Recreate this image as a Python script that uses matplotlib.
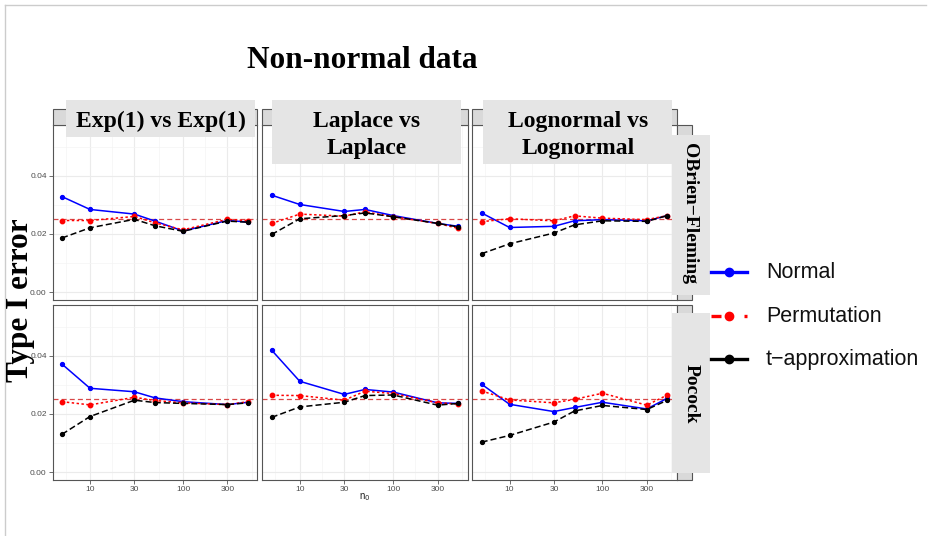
import numpy as np
import matplotlib
matplotlib.use("Agg")
import matplotlib.pyplot as plt
from matplotlib.patches import Rectangle
from matplotlib.lines import Line2D
from matplotlib.ticker import NullFormatter

# datos
n0 = [5, 10, 30, 50, 100, 300, 500]
alpha_nominal = 0.025

# O'Brien-Fleming
normal_exp_obf = [0.0328, 0.0284, 0.0268, 0.0244, 0.0210, 0.0246, 0.0241]
perm_exp_obf = [0.0246, 0.0246, 0.0260, 0.0238, 0.0214, 0.0250, 0.0245]
t_exp_obf = [0.0186, 0.0221, 0.0250, 0.0228, 0.0209, 0.0244, 0.0240]

normal_lap_obf = [0.0333, 0.0301, 0.0277, 0.0284, 0.0263, 0.0236, 0.0226]
perm_lap_obf = [0.0236, 0.0268, 0.0261, 0.0276, 0.0259, 0.0236, 0.0219]
t_lap_obf = [0.0198, 0.0252, 0.0263, 0.0272, 0.0259, 0.0236, 0.0224]

normal_log_obf = [0.0272, 0.0222, 0.0226, 0.0245, 0.0249, 0.0245, 0.0263]
perm_log_obf = [0.0242, 0.0252, 0.0245, 0.0262, 0.0254, 0.0249, 0.0263]
t_log_obf = [0.0132, 0.0166, 0.0203, 0.0231, 0.0245, 0.0243, 0.0263]

# Pocock
normal_exp_poc = [0.0371, 0.0288, 0.0276, 0.0255, 0.0242, 0.0232, 0.0240]
perm_exp_poc = [0.0242, 0.0231, 0.0257, 0.0246, 0.0238, 0.0232, 0.0242]
t_exp_poc = [0.0130, 0.0191, 0.0247, 0.0239, 0.0236, 0.0232, 0.0238]

normal_lap_poc = [0.0419, 0.0312, 0.0267, 0.0284, 0.0275, 0.0238, 0.0236]
perm_lap_poc = [0.0264, 0.0263, 0.0247, 0.0278, 0.0270, 0.0238, 0.0234]
t_lap_poc = [0.0188, 0.0224, 0.0240, 0.0263, 0.0265, 0.0230, 0.0236]

normal_log_poc = [0.0302, 0.0233, 0.0208, 0.0222, 0.0240, 0.0217, 0.0254]
perm_log_poc = [0.0279, 0.0248, 0.0238, 0.0250, 0.0271, 0.0230, 0.0265]
t_log_poc = [0.0103, 0.0126, 0.0172, 0.0210, 0.0229, 0.0215, 0.0247]

metodos = ["Normal", "Permutation", "t\u2212approximation"]
columnas = [["Exp(1) vs Exp(1)"], ["Laplace vs", "Laplace"], ["Lognormal vs", "Lognormal"]]
filas = ["OBrien\u2212Fleming", "Pocock"]
y_ticks = [0.0, 0.02, 0.04]
x_ticks = [10, 30, 100, 300]

datos = [
    [[normal_exp_obf, perm_exp_obf, t_exp_obf],
     [normal_lap_obf, perm_lap_obf, t_lap_obf],
     [normal_log_obf, perm_log_obf, t_log_obf]],
    [[normal_exp_poc, perm_exp_poc, t_exp_poc],
     [normal_lap_poc, perm_lap_poc, t_lap_poc],
     [normal_log_poc, perm_log_poc, t_log_poc]],
]

colores = ["#0000ff", "#ff0000", "#000000"]
estilos = ["-", (0, (1.6, 1.6)), (0, (4, 2))]

W, H = 934, 536
fig = plt.figure(figsize=(W / 100, H / 100), dpi=100)

def fx(x):
    return x / W

def fy(y):
    return 1 - y / H

def caja(x0, y0, x1, y1, **kw):
    r = Rectangle((fx(x0), fy(y1)), (x1 - x0) / W, (y1 - y0) / H,
                  transform=fig.transFigure, **kw)
    fig.add_artist(r)

sans = "Liberation Sans"
serif = "Liberation Serif"

col_x = [(52.7, 257.3), (262.3, 467.7), (472.3, 676.7)]
fil_y = [(125, 300), (305, 480)]

# limites como ggplot (expansion 5%)
lx0, lx1 = np.log10(n0[0]), np.log10(n0[-1])
pad = 0.05 * (lx1 - lx0)
xlim = (10 ** (lx0 - pad), 10 ** (lx1 + pad))
ylim = (-0.0027, 0.0574)
minor_x = [np.sqrt(3 * 10), np.sqrt(10 * 30), np.sqrt(30 * 100), np.sqrt(100 * 300), np.sqrt(300 * 1000)]

for i in range(2):
    for j in range(3):
        x0, x1 = col_x[j]
        y0, y1 = fil_y[i]
        ax = fig.add_axes([fx(x0), fy(y1), (x1 - x0) / W, (y1 - y0) / H])
        ax.set_xscale("log")
        ax.set_xlim(xlim)
        ax.set_ylim(ylim)
        ax.set_xticks(x_ticks)
        ax.set_xticks(minor_x, minor=True)
        ax.xaxis.set_minor_formatter(NullFormatter())
        ax.set_yticks(y_ticks)
        ax.set_yticks([0.01, 0.03, 0.05], minor=True)
        ax.grid(which="major", color="#ebebeb", lw=0.8)
        ax.grid(which="minor", color="#f4f4f4", lw=0.5)
        ax.set_axisbelow(True)
        ax.tick_params(which="minor", length=0)
        ax.tick_params(which="major", length=2.8, width=0.5, color="#333333",
                       labelsize=6, labelcolor="#4d4d4d", pad=1.5)
        if i == 1:
            ax.set_xticklabels([str(t) for t in x_ticks], family=sans)
        else:
            ax.set_xticklabels([])
            ax.tick_params(axis="x", length=0)
        if j == 0:
            ax.set_yticklabels(["%.2f" % t for t in y_ticks], family=sans)
        else:
            ax.set_yticklabels([])
            ax.tick_params(axis="y", length=0)
        for s in ax.spines.values():
            s.set_color("#555555")
            s.set_linewidth(0.8)

        ax.axhline(alpha_nominal, color="#d84848", lw=0.9, ls=(0, (4, 2.5)), zorder=2)
        for k in range(3):
            ax.plot(n0, datos[i][j][k], color=colores[k], ls=estilos[k], lw=1.1,
                    marker="o", ms=3.2 if k == 1 else 2.8, zorder=3 + k)

# strips originales de ggplot
for (x0, x1) in col_x:
    caja(x0, 109.3, x1, 125, facecolor="#d9d9d9", edgecolor="#555555", lw=0.8)
for (y0, y1) in fil_y:
    caja(677, y0, 692, y1, facecolor="#d9d9d9", edgecolor="#555555", lw=0.8)

# cajas superpuestas con etiquetas
caja(66, 100, 255, 137, facecolor="#e5e5e5", edgecolor="none")
caja(272, 100, 461, 164, facecolor="#e5e5e5", edgecolor="none")
caja(483, 100, 672, 164, facecolor="#e5e5e5", edgecolor="none")
caja(672, 135, 710, 295, facecolor="#e5e5e5", edgecolor="none")
caja(672, 313, 710, 473, facecolor="#e5e5e5", edgecolor="none")

centros = [160.5, 367, 578]
for j in range(3):
    for li, linea in enumerate(columnas[j]):
        fig.text(fx(centros[j]), fy(126.7 + 27.7 * li), linea, ha="center", va="baseline",
                 family=serif, weight="bold", fontsize=17)

fig.text(fx(690), fy(214), filas[0], rotation=-90, ha="center", va="center",
         family=serif, weight="bold", fontsize=14)
fig.text(fx(691), fy(393.5), filas[1], rotation=-90, ha="center", va="center",
         family=serif, weight="bold", fontsize=14)

# titulos
fig.text(fx(362), fy(68.5), "Non-normal data", ha="center", va="baseline",
         family=serif, weight="bold", fontsize=22.5)
fig.text(fx(20.5), fy(300), "Type I error", rotation=90, ha="center", va="center",
         family=serif, weight="bold", fontsize=22.5)
fig.text(fx(365), fy(497), "n$_0$", ha="center", va="center", family=sans,
         fontsize=7, color="#222222")

# leyenda
leg_y = [272.3, 316, 359]
leg_estilos = ["-", (0, (3, 6.9)), "-"]
for k in range(3):
    y = fy(leg_y[k])
    fig.add_artist(Line2D([fx(711), fx(747)], [y, y], color=colores[k], lw=2.4,
                          ls=leg_estilos[k], transform=fig.transFigure))
    fig.add_artist(Line2D([fx(729.3)], [y], color=colores[k], marker="o", ms=6,
                          transform=fig.transFigure))
    fig.text(fx(766), y, metodos[k], ha="left", va="center", family=sans,
             fontsize=15.5, color="#111111")

# borde de la diapositiva
fig.add_artist(Line2D([fx(5), fx(926)], [fy(5), fy(5)], color="#cccccc", lw=1,
                      transform=fig.transFigure))
fig.add_artist(Line2D([fx(5), fx(5)], [fy(5), fy(536)], color="#cccccc", lw=1,
                      transform=fig.transFigure))

plt.savefig("out.png", dpi=100)
